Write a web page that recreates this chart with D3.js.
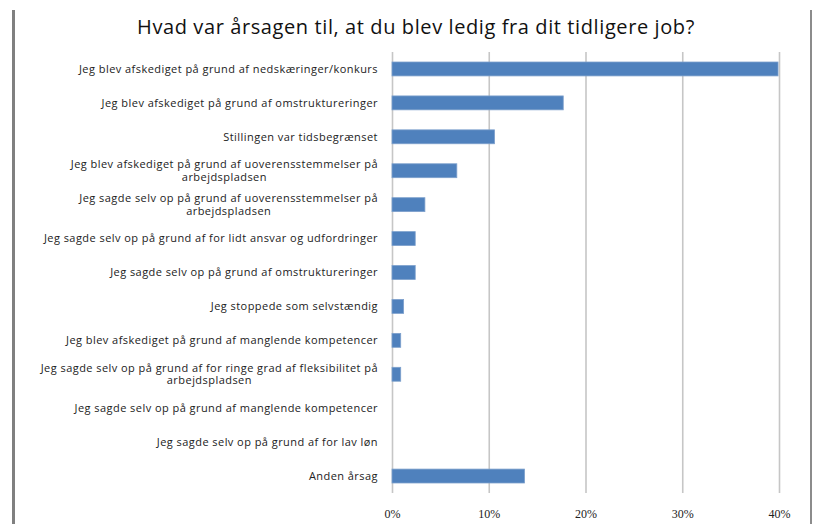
<!DOCTYPE html>
<html>
<head>
<meta charset="utf-8">
<script src="https://cdn.jsdelivr.net/npm/d3@7"></script>
<style>
  body { margin: 0; background: #fff; }
</style>
</head>
<body>
<div id="chart"></div>
<script>
// 차트 데이터
const categories = [
    "Jeg blev afskediget på grund af nedskæringer/konkurs",
    "Jeg blev afskediget på grund af omstruktureringer",
    "Stillingen var tidsbegrænset",
    "Jeg blev afskediget på grund af uoverensstemmelser på\narbejdspladsen",
    "Jeg sagde selv op på grund af uoverensstemmelser på\narbejdspladsen",
    "Jeg sagde selv op på grund af for lidt ansvar og udfordringer",
    "Jeg sagde selv op på grund af omstruktureringer",
    "Jeg stoppede som selvstændig",
    "Jeg blev afskediget på grund af manglende kompetencer",
    "Jeg sagde selv op på grund af for ringe grad af fleksibilitet på\narbejdspladsen",
    "Jeg sagde selv op på grund af manglende kompetencer",
    "Jeg sagde selv op på grund af for lav løn",
    "Anden årsag"
];
const values = [0.399, 0.177, 0.106, 0.067, 0.034, 0.024, 0.024, 0.012, 0.009, 0.009, 0, 0, 0.137];
const tickValues = [0, 0.1, 0.2, 0.3, 0.4];
const title = "Hvad var årsagen til, at du blev ledig fra dit tidligere job?";

// SVG 크기 설정
const width = 813;
const height = 524;

const svg = d3.select("#chart")
    .append("svg")
    .attr("width", width)
    .attr("height", height)
    .style("font-family", "'Open Sans', sans-serif");

// 스케일
const x = d3.scaleLinear()
    .domain([0, 0.4])
    .range([392, 779]);

const y = d3.scaleBand()
    .domain(categories)
    .range([52, 493])
    .paddingInner(0.59)
    .paddingOuter(0.295);

// 프레임 선 (왼쪽, 오른쪽)
svg.append("line")
    .attr("x1", 13.5).attr("x2", 13.5)
    .attr("y1", 10).attr("y2", height)
    .attr("stroke", "#808080")
    .attr("stroke-width", 3);

svg.append("line")
    .attr("x1", 811).attr("x2", 811)
    .attr("y1", 10).attr("y2", height)
    .attr("stroke", "#8c8c8c")
    .attr("stroke-width", 2);

// 제목
svg.append("text")
    .attr("x", 416)
    .attr("y", 34)
    .attr("text-anchor", "middle")
    .style("font-size", "20px")
    .style("letter-spacing", "0.6px")
    .attr("fill", "#111")
    .text(title);

// 그리드 선
const grid = svg.append("g")
    .attr("transform", `translate(0, ${y.range()[1]})`)
    .call(d3.axisBottom(x)
        .tickValues(tickValues)
        .tickSize(-(y.range()[1] - y.range()[0]))
        .tickFormat(d3.format(".0%")));

grid.select(".domain").remove();
grid.selectAll(".tick line")
    .attr("stroke", "#c6c6c6")
    .attr("stroke-width", 1.6);
grid.selectAll(".tick text")
    .attr("y", 16)
    .attr("fill", "#222")
    .style("font-size", "12px")
    .style("font-family", "'Liberation Serif', serif");

// 막대 그리기
svg.append("g")
    .selectAll("rect")
    .data(values)
    .enter()
    .append("rect")
    .attr("x", x(0))
    .attr("y", (d, i) => y(categories[i]))
    .attr("width", d => x(d) - x(0))
    .attr("height", y.bandwidth())
    .attr("fill", "#4f81bd")
    .attr("stroke", "#7da0cc")
    .attr("stroke-width", d => d > 0 ? 0.8 : 0);

// 카테고리 라벨 (여러 줄은 가운데 정렬)
const labels = svg.append("g")
    .selectAll("text")
    .data(categories)
    .enter()
    .append("text")
    .attr("fill", "#222")
    .style("font-size", "11px")
    .style("letter-spacing", "0.45px");

labels.each(function (d) {
    const lines = d.split("\n");
    const text = d3.select(this);
    const cy = y(d) + y.bandwidth() / 2;
    const lineHeight = 12.5;
    const top = cy - (lines.length - 1) * lineHeight / 2;
    if (lines.length === 1) {
        text.attr("x", 378).attr("y", cy).attr("dy", "0.35em")
            .attr("text-anchor", "end").text(d);
        return;
    }
    // 첫 줄 너비를 기준으로 가운데 정렬
    const probe = text.append("tspan").text(lines[0]);
    const w = probe.node().getComputedTextLength();
    probe.remove();
    const center = 378 - w / 2;
    text.attr("text-anchor", "middle");
    lines.forEach((line, k) => {
        text.append("tspan")
            .attr("x", center)
            .attr("y", top + k * lineHeight)
            .attr("dy", "0.35em")
            .text(line);
    });
});
</script>
</body>
</html>
